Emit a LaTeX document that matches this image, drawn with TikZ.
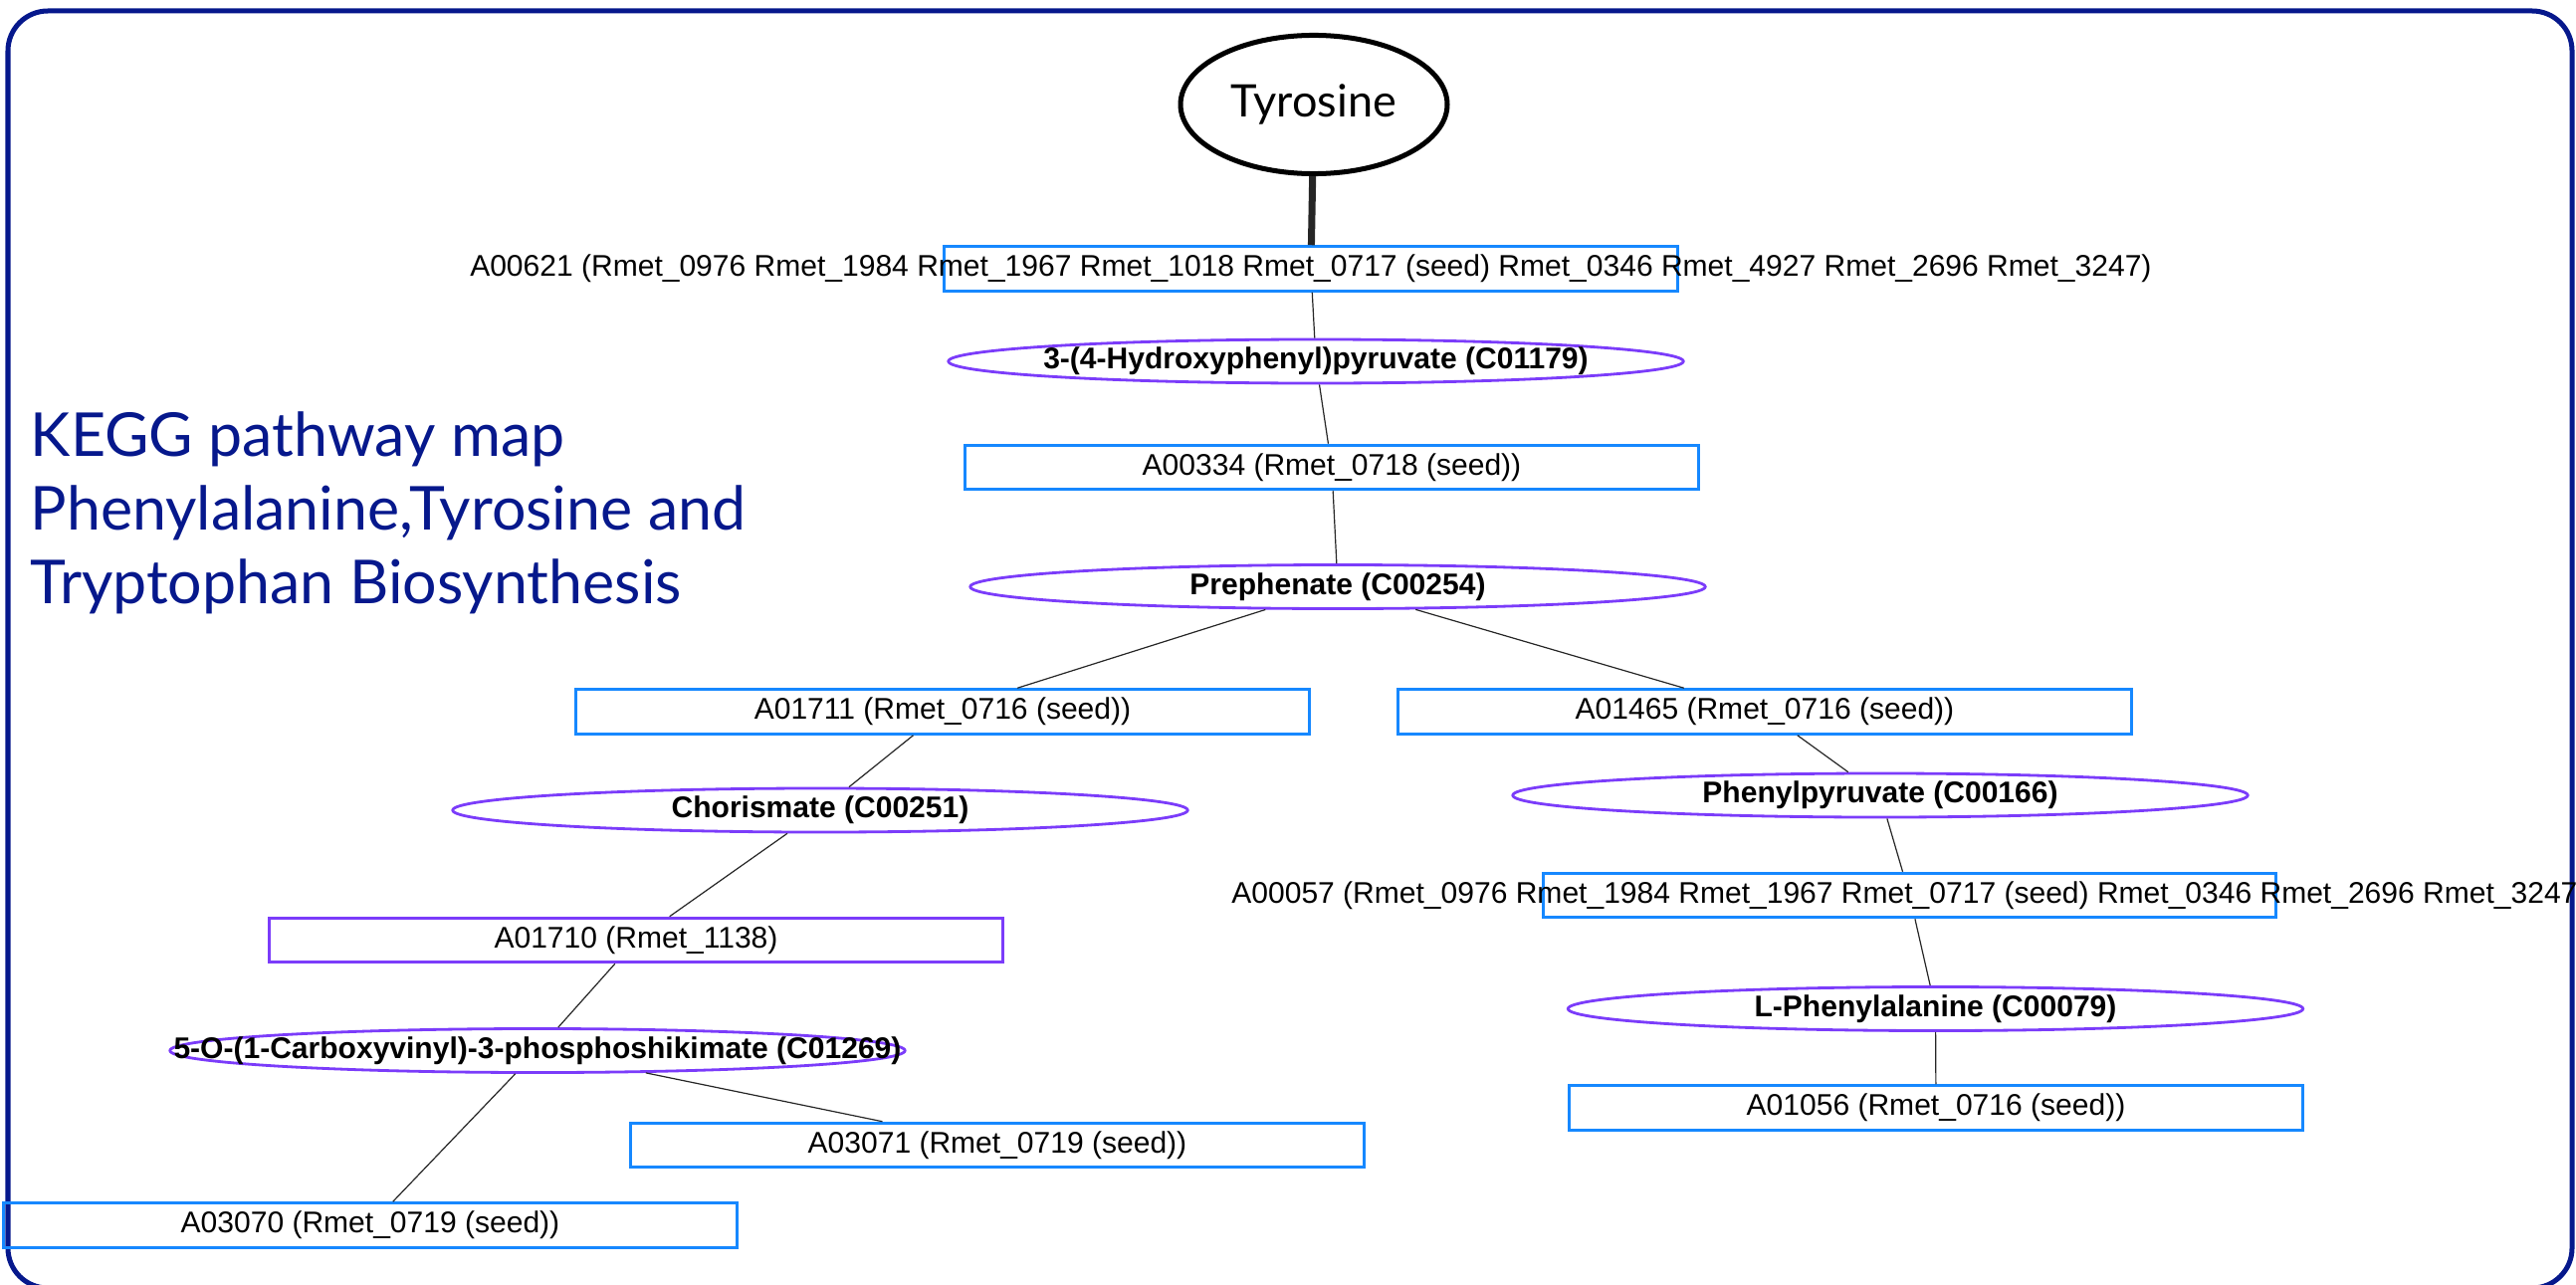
\documentclass[tikz,border=0pt]{standalone}
\usepackage{fontspec}
\setmainfont{Liberation Sans}
\newfontfamily\gillfont{Lato}
\usetikzlibrary{shapes.geometric}
\definecolor{navy}{RGB}{6,24,140}
\definecolor{rxnblue}{RGB}{22,136,255}
\definecolor{cpdviolet}{RGB}{123,60,250}
\newcommand\rxnsize{\fontsize{8.54pt}{10pt}\selectfont}
\tikzset{
  rxn/.style={draw=rxnblue,line width=0.03cm,minimum width=7.36cm,minimum height=0.445cm,
              inner sep=0pt,font=\rxnsize},
  wide/.style={label={[font=\rxnsize]center:#1}},
  cpd/.style={ellipse,draw=cpdviolet,line width=0.028cm,minimum width=7.38cm,minimum height=0.44cm,
              inner sep=0pt,label={[font=\rxnsize\bfseries]center:#1}},
  target/.style={ellipse,draw=black,line width=0.05cm,minimum width=2.65cm,minimum height=1.39cm,
                 font=\gillfont\fontsize{12.8pt}{14pt}\selectfont},
  heading/.style={text=navy,align=left,inner sep=0pt,
                  font=\gillfont\fontsize{17.3pt}{21.06pt}\selectfont},
  link/.style={draw=black!85,line width=0.012cm},
}

\begin{document}
\begin{tikzpicture}[x=0.01cm,y=-0.01cm]
    \useasboundingbox (0,0) rectangle (2588,1291);
    \draw[navy,line width=0.05cm,rounded corners=0.4cm] (8,11) rectangle (2584,1294);
    \node[heading,anchor=north west] (title) at (30,413)
      {KEGG pathway map\\Phenylalanine,Tyrosine and\\Tryptophan Biosynthesis};

    \node[target] (tyr) at (1320,105) {Tyrosine};
    \node[rxn,wide={A00621 (Rmet\_0976 Rmet\_1984 Rmet\_1967 Rmet\_1018 Rmet\_0717 (seed) Rmet\_0346 Rmet\_4927 Rmet\_2696 Rmet\_3247)}] (a00621) at (1317,270) {};
    \node[cpd={3-(4-Hydroxyphenyl)pyruvate (C01179)}] (c01179) at (1322,363) {};
    \node[rxn] (a00334) at (1338,469.5) {A00334 (Rmet\_0718 (seed))};
    \node[cpd={Prephenate (C00254)}] (c00254) at (1344,589.5) {};
    \node[rxn] (a01711) at (947,715) {A01711 (Rmet\_0716 (seed))};
    \node[rxn] (a01465) at (1773,715) {A01465 (Rmet\_0716 (seed))};
    \node[cpd={Chorismate (C00251)}] (c00251) at (824,814) {};
    \node[rxn,draw=cpdviolet] (a01710) at (639,944.5) {A01710 (Rmet\_1138)};
    \node[cpd={5-O-(1-Carboxyvinyl)-3-phosphoshikimate (C01269)}] (c01269) at (540,1055.5) {};
    \node[rxn] (a03071) at (1002,1150.5) {A03071 (Rmet\_0719 (seed))};
    \node[rxn] (a03070) at (372,1231) {A03070 (Rmet\_0719 (seed))};
    \node[cpd={Phenylpyruvate (C00166)}] (c00166) at (1889,799) {};
    \node[rxn,wide={A00057 (Rmet\_0976 Rmet\_1984 Rmet\_1967 Rmet\_0717 (seed) Rmet\_0346 Rmet\_2696 Rmet\_3247)}] (a00057) at (1918.5,899.5) {};
    \node[cpd={L-Phenylalanine (C00079)}] (c00079) at (1944.5,1013.5) {};
    \node[rxn] (a01056) at (1945,1113) {A01056 (Rmet\_0716 (seed))};

    \draw[link,line width=0.07cm] (tyr) -- (a00621);
    \foreach \a/\b in {a00621/c01179,c01179/a00334,a00334/c00254,c00254/a01711,c00254/a01465,
                       a01711/c00251,c00251/a01710,a01710/c01269,c01269/a03070,c01269/a03071,
                       a01465/c00166,c00166/a00057,a00057/c00079,c00079/a01056}
      \draw[link] (\a) -- (\b);
\end{tikzpicture}
\end{document}
